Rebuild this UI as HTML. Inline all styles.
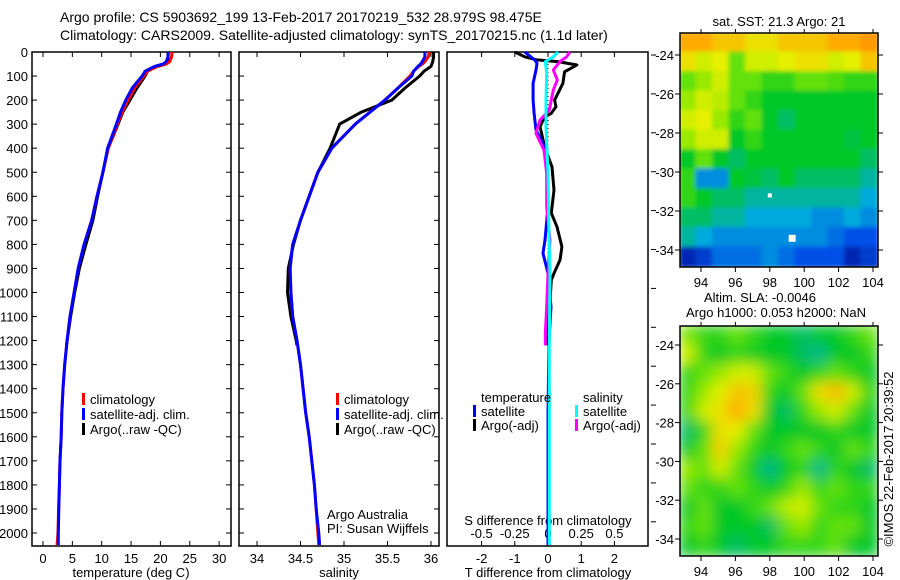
<!DOCTYPE html>
<html><head><meta charset="utf-8">
<style>
html,body{margin:0;padding:0;background:#fff;}
svg{display:block;font-family:"Liberation Sans",Arial,sans-serif;}
text{fill:#000;}
</style></head>
<body>
<svg id="fig" width="900" height="580" viewBox="0 0 900 580" xmlns="http://www.w3.org/2000/svg">
<defs>
  <filter id="blur2" x="-5%" y="-5%" width="110%" height="110%"><feGaussianBlur stdDeviation="7"/></filter>
  <filter id="blur1"><feGaussianBlur stdDeviation="2"/></filter>
  <clipPath id="clipM1"><rect x="680" y="33" width="198" height="234"/></clipPath>
  <clipPath id="clipM2"><rect x="680" y="326" width="198" height="230"/></clipPath>
</defs>
<text x="60" y="22" font-size="14">Argo profile: CS 5903692_199 13-Feb-2017 20170219_532 28.979S 98.475E</text>
<text x="60" y="40" font-size="14">Climatology: CARS2009. Satellite-adjusted climatology: synTS_20170215.nc (1.1d later)</text>
<g id="layer"></g>
</svg>
<script>
// ---------------- data ----------------
const depthT = [0,20,40,50,60,80,100,150,200,250,300,400,500,600,700,800,900,1000,1100,1200,1300,1400,1500,1600,1700,1800,1900,2000,2050];
const tempClim = [22.0,21.9,21.6,21.0,19.5,17.8,17.2,15.6,14.5,13.5,12.7,11.1,10.2,9.2,8.3,7.0,6.0,5.3,4.6,4.1,3.7,3.4,3.2,3.1,2.9,2.8,2.65,2.55,2.4];
const tempSat  = [21.4,21.3,21.0,20.5,19.0,17.4,16.9,15.2,14.1,13.2,12.5,11.0,10.2,9.2,8.3,7.0,6.0,5.3,4.6,4.1,3.7,3.4,3.2,3.1,2.9,2.8,2.7,2.6,2.6];
const depthArgo = [0,20,40,50,60,80,100,150,200,250,300,400,500,600,700,800,900,1000,1100,1200,1220];
const tempArgo = [21.3,21.3,21.2,20.8,19.2,17.8,17.4,16.0,14.8,13.6,12.8,11.1,10.2,9.3,8.5,7.3,6.2,5.4,4.7,4.1,4.0];
const salClim = [35.98,35.97,35.93,35.90,35.86,35.80,35.76,35.62,35.47,35.30,35.13,34.86,34.70,34.60,34.50,34.41,34.38,34.39,34.41,34.46,34.50,34.53,34.56,34.60,34.63,34.66,34.68,34.70,34.71];
const salSat  = [35.93,35.93,35.90,35.88,35.85,35.80,35.78,35.62,35.47,35.30,35.13,34.86,34.70,34.60,34.50,34.41,34.38,34.39,34.41,34.46,34.50,34.53,34.56,34.60,34.63,34.66,34.68,34.71,34.72];
const salArgo = [36.03,36.03,36.02,36.01,36.00,35.92,35.87,35.70,35.55,35.20,34.95,34.84,34.70,34.60,34.50,34.42,34.36,34.35,34.39,34.45,34.46];
const depthDT = [0,20,33,40,54,75,82,130,158,200,228,255,270,310,395,478,574,670,727,810,865,920,948,1060,1170,1220];
const dTArgo  = [-1.0,-0.7,-0.33,0.3,0.87,0.6,0.5,0.45,0.35,0.2,0.24,0.1,-0.1,-0.24,-0.1,0.12,0.18,0.1,0.27,0.42,0.36,0.18,0.1,0.05,-0.05,-0.05];
const depthDTs = [0,33,47,75,130,200,255,324,394,505,643,782,837,920,1059,1200,1500,1800,2050];
const dTSat    = [-0.7,-0.4,-0.33,-0.36,-0.45,-0.45,-0.42,-0.36,-0.1,-0.03,0,-0.09,-0.15,0,0.09,0.03,0.0,0.0,0.0];
const depthDS = [0,20,40,75,116,158,241,283,338,408,505,643,782,920,1059,1170,1220];
const dSArgo  = [0.165,0.14,0.09,0.04,0.07,0.04,0.01,-0.06,-0.09,-0.03,-0.01,-0.01,0.015,0.0,-0.01,-0.02,-0.02];
const depthDSs = [0,20,40,89,200,310,505,782,920,1200,1500,2050];
const dSSat    = [0.075,0.04,-0.02,-0.01,-0.015,-0.015,0,0.008,0.015,0.01,0.01,0.01];
const depthTicks = [0,100,200,300,400,500,600,700,800,900,1000,1100,1200,1300,1400,1500,1600,1700,1800,1900,2000];
const tempTicks = [0,5,10,15,20,25,30];
const salTicks = [34,34.5,35,35.5,36];
const dTTicks = [-2,-1,0,1,2];
const dSTicks = [-0.5,-0.25,0,0.25,0.5];
const lonTicks = [94,96,98,100,102,104];
const latTicks = [-24,-26,-28,-30,-32,-34];
// SST map grid (0=cold navy .. 1=warm orange), rows north->south
const sstGrid = [
[.85,.85,.8,.8,.75,.75,.8,.8,.8,.85,.85,.9],
[.75,.7,.72,.6,.7,.7,.72,.75,.75,.7,.72,.8],
[.6,.65,.7,.6,.6,.55,.55,.6,.6,.58,.55,.55],
[.65,.7,.68,.6,.55,.5,.5,.5,.5,.5,.5,.5],
[.7,.72,.65,.55,.6,.5,.45,.5,.5,.5,.5,.5],
[.65,.7,.7,.5,.55,.5,.5,.5,.5,.5,.48,.5],
[.5,.6,.5,.45,.5,.5,.5,.5,.5,.5,.5,.45],
[.55,.3,.3,.5,.48,.45,.5,.45,.45,.45,.45,.4],
[.55,.5,.45,.45,.4,.4,.4,.4,.4,.4,.4,.35],
[.45,.45,.4,.4,.35,.35,.35,.35,.3,.3,.35,.3],
[.4,.35,.3,.3,.3,.3,.3,.3,.3,.25,.2,.2],
[.1,.15,.25,.25,.25,.3,.25,.2,.2,.2,.1,.15]];
const slaGrid = [
[.62,.55,.55,.6,.55,.5,.5,.45,.5,.5,.55,.6],
[.7,.55,.5,.55,.52,.5,.5,.45,.42,.5,.5,.55],
[.55,.6,.65,.7,.7,.6,.55,.5,.55,.6,.55,.5],
[.55,.65,.72,.8,.78,.55,.5,.6,.75,.82,.7,.55],
[.55,.7,.75,.85,.75,.5,.45,.55,.65,.7,.6,.5],
[.45,.55,.75,.72,.6,.5,.5,.5,.5,.55,.5,.5],
[.5,.6,.78,.65,.55,.5,.55,.6,.55,.5,.6,.55],
[.65,.6,.7,.6,.5,.42,.5,.55,.42,.55,.5,.45],
[.6,.55,.55,.6,.55,.5,.55,.65,.55,.6,.55,.55],
[.5,.6,.5,.5,.55,.6,.68,.7,.6,.55,.55,.5],
[.55,.6,.5,.5,.5,.45,.6,.65,.55,.6,.6,.5],
[.5,.55,.5,.45,.5,.5,.55,.55,.55,.6,.5,.5]];

// ---------------- helpers ----------------
const NS="http://www.w3.org/2000/svg";
const L=document.getElementById('layer');
function mk(tag,attrs,parent){const e=document.createElementNS(NS,tag);for(const k in attrs)e.setAttribute(k,attrs[k]);(parent||L).appendChild(e);return e;}
function txt(x,y,s,anchor,size,parent){const e=mk('text',{x:x,y:y,'text-anchor':anchor||'start','font-size':size||13},parent);e.textContent=s;return e;}
const yD=d=>52+d*0.2405;
const xT=t=>43+t*5.87;
const xS=s=>257+(s-34)*87;
const xDT=t=>548+t*33.2;
const xDS=s=>548+s*132.8;
function line(xs,ys,xf,color,w,name){
  let d='';for(let i=0;i<xs.length;i++){d+=(i?'L':'M')+xf(xs[i]).toFixed(1)+','+yD(ys[i]).toFixed(1);}
  const p=mk('path',{d:d,fill:'none',stroke:color,'stroke-width':w,'stroke-linejoin':'round'});
  
  
  return p;
}
function frame(x0,x1,name){
  const r=mk('rect',{x:x0,y:52,width:x1-x0,height:494,fill:'none',stroke:'#000','stroke-width':1.5});
  
  
}
function legend(x,y,items,name){
  const g=mk('g',{});
  
  
  items.forEach((it,i)=>{
    mk('rect',{x:x,y:y+i*15-11,width:3,height:12,fill:it[0]},g);
    txt(x+8,y+i*15,it[1],'start',13,g);
  });
}

// ---------------- panel 1: temperature ----------------
frame(32,231,'temperature-panel');
depthTicks.forEach(d=>{
  const t=txt(28,yD(d)+5,String(d),'end',13);
  
  
  mk('line',{x1:32,x2:37,y1:yD(d),y2:yD(d),stroke:'#000'});
  mk('line',{x1:231,x2:226,y1:yD(d),y2:yD(d),stroke:'#000'});
});
tempTicks.forEach(v=>{
  mk('line',{x1:xT(v),x2:xT(v),y1:546,y2:541,stroke:'#000'});
  mk('line',{x1:xT(v),x2:xT(v),y1:52,y2:57,stroke:'#000'});
  const t=txt(xT(v),563,String(v),'middle',13);
  
  
});
{const t=txt(131,577,'temperature (deg C)','middle',13);}
line(tempArgo,depthArgo,xT,'#000',3,'temp-argo-line');
line(tempClim,depthT,xT,'#f00',3,'temp-climatology-line');
line(tempSat,depthT,xT,'#00f',3,'temp-satellite-line');
legend(82,404,[['#f00','climatology'],['#00f','satellite-adj. clim.'],['#000','Argo(..raw -QC)']],'temperature-legend');

// ---------------- panel 2: salinity ----------------
frame(239,439,'salinity-panel');
depthTicks.forEach(d=>{
  mk('line',{x1:239,x2:244,y1:yD(d),y2:yD(d),stroke:'#000'});
  mk('line',{x1:439,x2:434,y1:yD(d),y2:yD(d),stroke:'#000'});
});
salTicks.forEach(v=>{
  mk('line',{x1:xS(v),x2:xS(v),y1:546,y2:541,stroke:'#000'});
  mk('line',{x1:xS(v),x2:xS(v),y1:52,y2:57,stroke:'#000'});
  const t=txt(xS(v),563,String(v),'middle',13);
  
  
});
{const t=txt(339,577,'salinity','middle',13);}
line(salArgo,depthArgo,xS,'#000',3,'sal-argo-line');
line(salClim,depthT,xS,'#f00',3,'sal-climatology-line');
line(salSat,depthT,xS,'#00f',3,'sal-satellite-line');
legend(336,404,[['#f00','climatology'],['#00f','satellite-adj. clim.'],['#000','Argo(..raw -QC)']],'salinity-legend');
{const g=mk('g',{});
txt(327,519,'Argo Australia','start',13,g);txt(327,533,'PI: Susan Wijffels','start',13,g);}

// ---------------- panel 3: differences ----------------
frame(447,648,'difference-panel');
for(let y=55;y<=546;y+=38.9){mk('line',{x1:651,x2:656,y1:y,y2:y,stroke:'#000'});}
dTTicks.forEach(v=>{
  mk('line',{x1:xDT(v),x2:xDT(v),y1:546,y2:541,stroke:'#000'});
  mk('line',{x1:xDT(v),x2:xDT(v),y1:52,y2:57,stroke:'#000'});
  const t=txt(xDT(v),563,String(v),'middle',13);
  
  
});
dSTicks.forEach(v=>{
  const t=txt(xDS(v),538,String(v),'middle',13);
  
  
});
{const t=txt(548,577,'T difference from climatology','middle',13);}
{const t=txt(548,525,'S difference from climatology','middle',13);}
mk('line',{x1:548,x2:548,y1:52,y2:546,stroke:'#000','stroke-width':1,'stroke-dasharray':'1,3'});
line(dTArgo,depthDT,xDT,'#000',3,'t-diff-argo-line');
line(dTSat,depthDTs,xDT,'#00f',3,'t-diff-satellite-line');
line(dSArgo,depthDS,xDS,'#f0f',3,'s-diff-argo-line');
line(dSSat,depthDSs,xDS,'#0ff',3,'s-diff-satellite-line');
{const g=mk('g',{});
txt(481,402,'temperature','start',13,g);txt(583,402,'salinity','start',13,g);
mk('rect',{x:473,y:405,width:3,height:12,fill:'#00f'},g);txt(481,416,'satellite','start',13,g);
mk('rect',{x:473,y:419,width:3,height:12,fill:'#000'},g);txt(481,430,'Argo(-adj)','start',13,g);
mk('rect',{x:575,y:405,width:3,height:12,fill:'#0ff'},g);txt(583,416,'satellite','start',13,g);
mk('rect',{x:575,y:419,width:3,height:12,fill:'#f0f'},g);txt(583,430,'Argo(-adj)','start',13,g);}

// ---------------- maps ----------------
const stops=[[0,[0,0,128]],[0.2,[0,80,230]],[0.35,[0,170,220]],[0.5,[0,200,40]],[0.62,[120,230,0]],[0.72,[230,240,0]],[0.85,[255,170,0]],[1,[255,120,0]]];
function cmap(v){
  for(let i=1;i<stops.length;i++){if(v<=stops[i][0]){const a=stops[i-1],b=stops[i];const f=(v-a[0])/(b[0]-a[0]);
    const c=a[1].map((x,k)=>Math.round(x+(b[1][k]-x)*f));return 'rgb('+c.join(',')+')';}}
  return 'rgb(255,120,0)';
}
function map(grid,x0,y0,w,h,clip,filt,name,lat24,lat34){
  const g=mk('g',{'clip-path':'url(#'+clip+')'});
  
  
  const inner=mk('g',{filter:'url(#'+filt+')'},g);
  const rows=grid.length,cols=grid[0].length,cw=w/cols,ch=h/rows;
  grid.forEach((row,r)=>row.forEach((v,c)=>{
    const cell=mk('rect',{x:(x0+c*cw-1).toFixed(1),y:(y0+r*ch-1).toFixed(1),width:(cw+2).toFixed(1),height:(ch+2).toFixed(1),fill:cmap(v)},inner);
    
    
  }));
  mk('rect',{x:x0,y:y0,width:w,height:h,fill:'none',stroke:'#000','stroke-width':1.5});
  const xLon=l=>701+(l-94)*17.2;
  const yLat=l=>lat24+(l+24)*(lat34-lat24)/-10;
  lonTicks.forEach(l=>{
    mk('line',{x1:xLon(l),x2:xLon(l),y1:y0+h,y2:y0+h+5,stroke:'#000'});
    mk('line',{x1:xLon(l),x2:xLon(l),y1:y0,y2:y0-4,stroke:'#000'});
    const t=txt(xLon(l),y0+h+20,String(l),'middle',13);
    
    
  });
  latTicks.forEach(l=>{
    mk('line',{x1:x0-5,x2:x0,y1:yLat(l),y2:yLat(l),stroke:'#000'});
    mk('line',{x1:x0+w,x2:x0+w+5,y1:yLat(l),y2:yLat(l),stroke:'#000'});
    const t=txt(x0-6,yLat(l)+5,String(l),'end',13);
    
    
  });
  return {xLon,yLat};
}
const m1=map(sstGrid,680,33,198,234,'clipM1','blur1','sst-map',55,250);
mk('rect',{x:m1.xLon(98)-2,y:m1.yLat(-31.2)-2,width:4,height:4,fill:'#fff'});
mk('rect',{x:m1.xLon(99.3)-3.5,y:m1.yLat(-33.4)-3.5,width:7,height:7,fill:'#fff'});
map(slaGrid,680,326,198,230,'clipM2','blur2','sla-map',345,539);
{const t=txt(779,26,'sat. SST: 21.3 Argo: 21','middle',13);}
{const t=txt(760,302,'Altim. SLA: -0.0046','middle',13);}
{const t=txt(776,317,'Argo h1000: 0.053 h2000: NaN','middle',13);}
{const t=txt(0,0,'©IMOS 22-Feb-2017 20:39:52','middle',13);t.setAttribute('transform','translate(893,459) rotate(-90)');}
</script>
</body></html>
